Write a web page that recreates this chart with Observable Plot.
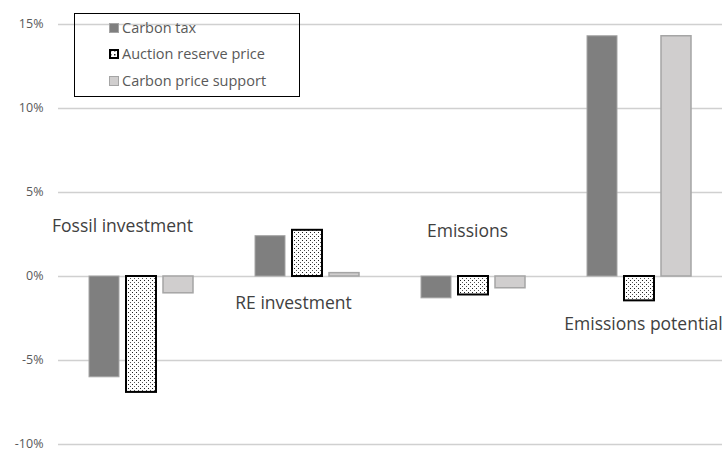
<!DOCTYPE html>
<html>
<head>
<meta charset="utf-8">
<script src="https://cdn.jsdelivr.net/npm/d3@7"></script>
<script src="https://cdn.jsdelivr.net/npm/@observablehq/plot@0.6"></script>
<style>
  html, body { margin: 0; padding: 0; background: #fff; }
  #wrap { position: relative; width: 723px; height: 450px; font-family: "Open Sans", sans-serif; }
  #legend { position: absolute; left: 74px; top: 13px; width: 226px; height: 84px; box-sizing: border-box; border: 1px solid #000; }
  .row { position: absolute; left: 34px; font-size: 14.5px; color: #595959; display: flex; align-items: center; white-space: nowrap; line-height: 1; }
  .row svg { margin-right: 3px; }
</style>
</head>
<body>
<div id="wrap"><div id="legend"></div></div>
<script>
const groups = ["Fossil investment", "RE investment", "Emissions", "Emissions potential"];
const seriesNames = ["Carbon tax", "Auction reserve price", "Carbon price support"];
const carbonTax = [-6.0, 2.4, -1.3, 14.3];
const auctionReservePrice = [-6.9, 2.75, -1.1, -1.45];
const carbonPriceSupport = [-1.0, 0.2, -0.7, 14.3];
const yTicks = [-10, -5, 0, 5, 10, 15];

const seriesValues = [carbonTax, auctionReservePrice, carbonPriceSupport];
const rows = groups.flatMap((g, i) => seriesNames.map((s, j) => ({group: g, series: s, value: seriesValues[j][i]})));

// label placement (layout, not data)
const labelY = {"Fossil investment": 3.0, "RE investment": -1.6, "Emissions": 2.7, "Emissions potential": -2.85};
const labelDx = {"Fossil investment": -19, "RE investment": -14, "Emissions": -6, "Emissions potential": 4};

const fillOf = {"Carbon tax": "#7f7f7f", "Auction reserve price": "url(#dots)", "Carbon price support": "#d0cece"};

const plot = Plot.plot({
  width: 723,
  height: 450,
  marginLeft: 58,
  marginRight: 1,
  marginTop: 24,
  marginBottom: 6,
  style: {fontFamily: "Open Sans, sans-serif", background: "transparent", overflow: "visible"},
  fx: {domain: groups, range: [58, 722], padding: 0, axis: null},
  x: {domain: seriesNames, paddingInner: 0.2, paddingOuter: 0.81, axis: null},
  y: {domain: [-10, 15], axis: null},
  marks: [
    Plot.ruleY(yTicks, {stroke: "#d0d0d0", strokeWidth: 1.5}),
    Plot.axisY({ticks: yTicks, tickSize: 0, tickPadding: 15, tickFormat: d => d + "%", fontSize: 12.5, fill: "#595959", anchor: "left", label: null, dy: -1}),
    Plot.barY(rows.filter(d => d.series === "Carbon tax"), {fx: "group", x: "series", y: "value", fill: "#7f7f7f", stroke: "#a5a5a5", strokeWidth: 1}),
    Plot.barY(rows.filter(d => d.series === "Auction reserve price"), {fx: "group", x: "series", y: "value", fill: "white"}),
    Plot.barY(rows.filter(d => d.series === "Auction reserve price"), {fx: "group", x: "series", y: "value", fill: "url(#dots)", stroke: "#000", strokeWidth: 2}),
    Plot.barY(rows.filter(d => d.series === "Carbon price support"), {fx: "group", x: "series", y: "value", fill: "#d0cece", stroke: "#a5a5a5", strokeWidth: 1.5}),
    Plot.text(groups, {fx: d => d, x: () => "Auction reserve price", y: d => labelY[d], text: d => d, fontSize: 17.5, fill: "#404040"})
  ]
});

const svg = plot.tagName.toLowerCase() === "svg" ? plot : plot.querySelector("svg");
d3.select(plot).selectAll("text").filter(function() { return groups.includes(this.textContent); })
  .attr("dx", function() { return labelDx[this.textContent]; });

const defs = d3.select(svg).insert("defs", ":first-child");
const pat = defs.append("pattern").attr("id", "dots").attr("patternUnits", "userSpaceOnUse").attr("width", 4).attr("height", 4);
pat.append("rect").attr("width", 4).attr("height", 4).attr("fill", "white");
pat.append("rect").attr("x", 0).attr("y", 0).attr("width", 1).attr("height", 1).attr("fill", "#222");
pat.append("rect").attr("x", 2).attr("y", 2).attr("width", 1).attr("height", 1).attr("fill", "#555");

plot.style.position = "absolute";
plot.style.left = "0";
plot.style.top = "0";
document.getElementById("wrap").prepend(plot);

// legend
const legend = document.getElementById("legend");
const rowTops = [7, 33, 60];
seriesNames.forEach((s, i) => {
  const r = document.createElement("div");
  r.className = "row";
  r.style.top = rowTops[i] + "px";
  let sw;
  if (s === "Auction reserve price") {
    sw = `<svg width="10" height="10"><defs><pattern id="dl" patternUnits="userSpaceOnUse" width="4" height="4"><rect width="4" height="4" fill="white"/><rect width="1.5" height="1.5" x="1" y="1" fill="#222"/></pattern></defs><rect x="1" y="1" width="8" height="8" fill="url(#dl)" stroke="#000" stroke-width="2"/></svg>`;
  } else {
    sw = `<svg width="10" height="10"><rect x="0.5" y="0.5" width="9" height="9" fill="${fillOf[s]}" stroke="#a5a5a5" stroke-width="1"/></svg>`;
  }
  r.innerHTML = sw + `<span>${s}</span>`;
  legend.appendChild(r);
});
</script>
</body>
</html>
